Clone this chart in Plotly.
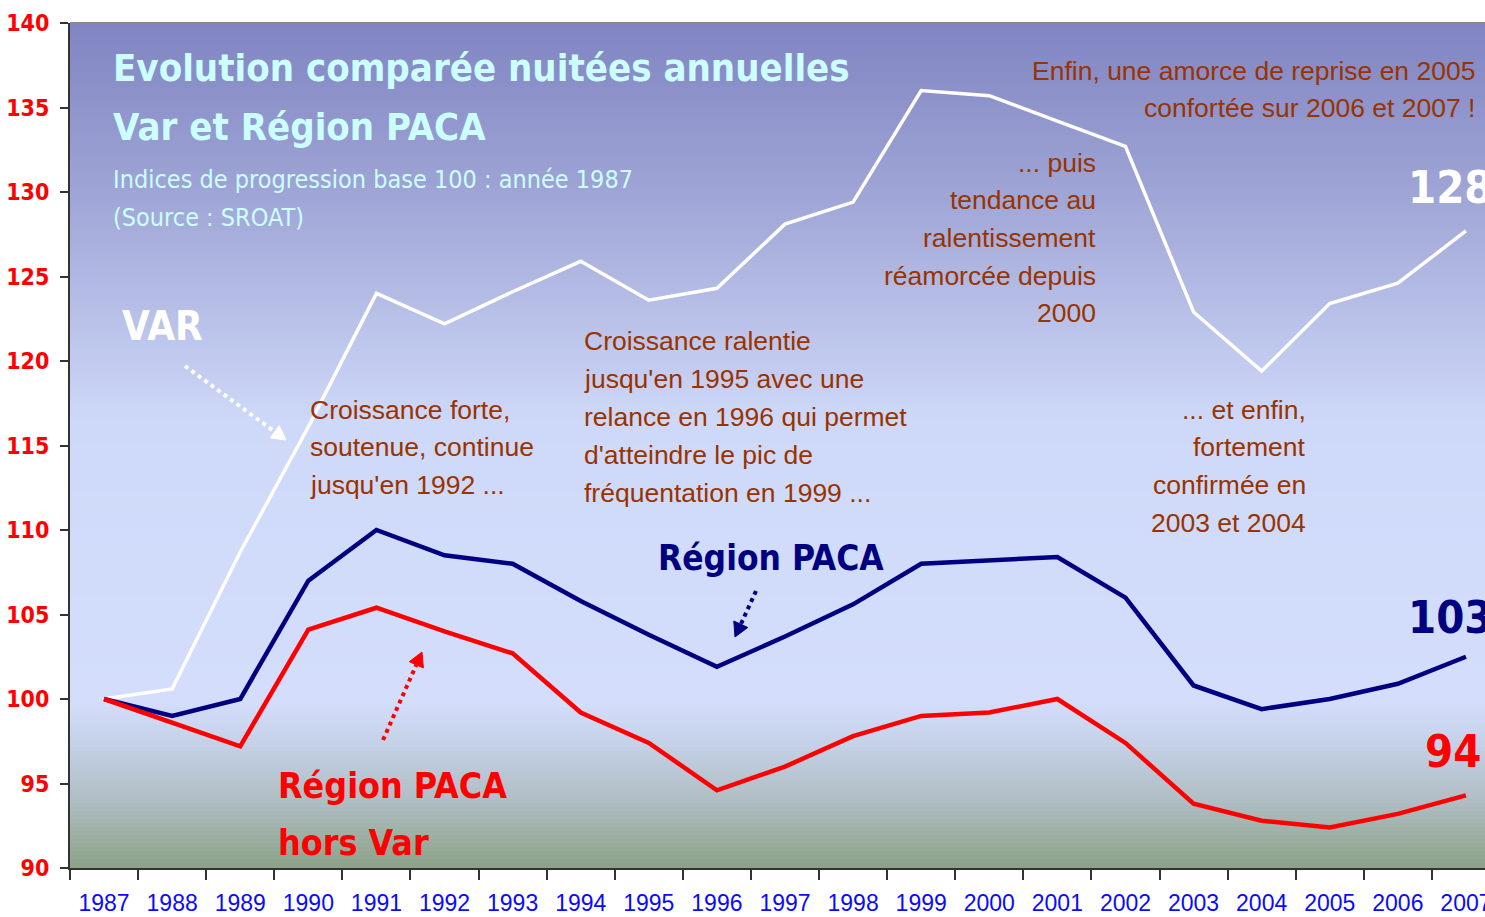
import plotly.graph_objects as go

# ---- data (index base 100 = 1987) ----
years = [str(y) for y in range(1987, 2008)]
var_index = [100, 100.6, 108.7, 116.1, 124.0, 122.2, 124.1, 125.9, 123.6, 124.3,
             128.1, 129.4, 136.0, 135.7, 134.2, 132.7, 122.9, 119.4, 123.4, 124.6, 127.7]
paca_index = [100, 99.0, 100.0, 107.0, 110.0, 108.5, 108.0, 105.8, 103.8, 101.9,
              103.7, 105.6, 108.0, 108.2, 108.4, 106.0, 100.8, 99.4, 100.0, 100.9, 102.5]
hors_var_index = [100, 98.6, 97.2, 104.1, 105.4, 104.0, 102.7, 99.2, 97.4, 94.6,
                  96.0, 97.8, 99.0, 99.2, 100.0, 97.4, 93.8, 92.8, 92.4, 93.2, 94.3]
y_ticks = [90, 95, 100, 105, 110, 115, 120, 125, 130, 135, 140]

# ---- page geometry (pixels) ----
W, H = 1485, 917
PL, PR, PT, PB = 70, 1485, 23, 868

COND = "DejaVu Sans Condensed, DejaVu Sans, sans-serif"
SANS = "Liberation Sans, Arial, sans-serif"
BROWN = "#993300"
NAVY = "#000080"
CYAN = "#CCFFFF"


def fx(px):
    return (px - PL) / (PR - PL)


def fy(py):
    return (PB - py) / (PB - PT)


def condensed(text):
    return '<span style="font-stretch:condensed">' + text + '</span>'


fig = go.Figure()

fig.add_trace(go.Scatter(x=years, y=var_index, mode='lines', name='Var',
                         line=dict(color='white', width=3.5)))
fig.add_trace(go.Scatter(x=years, y=paca_index, mode='lines', name='Région PACA',
                         line=dict(color=NAVY, width=4.5)))
fig.add_trace(go.Scatter(x=years, y=hors_var_index, mode='lines', name='Région PACA hors Var',
                         line=dict(color='#FF0000', width=4.5)))

# background gradient, built from horizontal bands
stops = [
    (23, (128, 132, 194)),
    (200, (160, 166, 214)),
    (420, (206, 216, 248)),
    (700, (212, 222, 252)),
    (735, (200, 212, 236)),
    (800, (176, 190, 196)),
    (868, (140, 162, 135)),
]


def grad_color(py):
    for (y0, c0), (y1, c1) in zip(stops[:-1], stops[1:]):
        if y0 <= py <= y1:
            t = (py - y0) / (y1 - y0)
            c = [round(a + (b - a) * t) for a, b in zip(c0, c1)]
            return 'rgb(%d,%d,%d)' % tuple(c)
    return 'rgb(%d,%d,%d)' % stops[-1][1]


shapes = []
step = 4
for py in range(PT, PB, step):
    shapes.append(dict(type='rect', xref='paper', yref='paper', layer='below',
                       x0=0, x1=1, y0=fy(min(py + step + 1, PB)), y1=fy(py),
                       line=dict(width=0), fillcolor=grad_color(py + step / 2)))

# top border of the plot area
shapes.append(dict(type='line', xref='paper', yref='paper', x0=0, x1=1, y0=1, y1=1,
                   line=dict(color='#8a8a8a', width=2)))


def dotted_arrow(x0, y0, x1, y1, color, head=14):
    # dotted shaft plus a filled triangle head (pixel coords)
    dx, dy = x1 - x0, y1 - y0
    n = (dx * dx + dy * dy) ** 0.5
    ux, uy = dx / n, dy / n
    bx, by = x1 - ux * head, y1 - uy * head
    shapes.append(dict(type='line', xref='paper', yref='paper',
                       x0=fx(x0), y0=fy(y0), x1=fx(bx), y1=fy(by),
                       line=dict(color=color, width=4, dash='dot')))
    w = head * 0.55
    p1 = (bx - uy * w, by + ux * w)
    p2 = (bx + uy * w, by - ux * w)
    path = 'M %f %f L %f %f L %f %f Z' % (fx(x1), fy(y1), fx(p1[0]), fy(p1[1]),
                                          fx(p2[0]), fy(p2[1]))
    shapes.append(dict(type='path', xref='paper', yref='paper', path=path,
                       fillcolor=color, line=dict(color=color, width=1)))


dotted_arrow(185, 366, 286, 440, 'white')
dotted_arrow(756, 591, 735, 637, NAVY)
dotted_arrow(383, 740, 422, 652, '#FF0000')

annotations = []


def label(text, px, py, size, color, family=SANS, anchor='left', bold=False, cond=False):
    font = dict(size=size, color=color, family=family)
    if bold:
        font['weight'] = 'bold'
    if cond:
        text = condensed(text)
    annotations.append(dict(text=text, xref='paper', yref='paper', x=fx(px), y=fy(py),
                            xanchor=anchor, yanchor='middle', showarrow=False, font=font))


# title block
label('Evolution comparée nuitées annuelles', 111, 68, 38, CYAN, COND, bold=True, cond=True)
label('Var et Région PACA', 111, 127, 38, CYAN, COND, bold=True, cond=True)
label('Indices de progression base 100 : année 1987', 111, 179, 25, CYAN, COND, cond=True)
label('(Source : SROAT)', 111, 217, 25, CYAN, COND, cond=True)

# series labels
label('VAR', 120, 326, 40, 'white', COND, bold=True, cond=True)
label('Région PACA', 656, 558, 35, NAVY, COND, bold=True, cond=True)
label('Région PACA', 276, 785, 35.5, '#FF0000', COND, bold=True, cond=True)
label('hors Var', 276, 842, 35.5, '#FF0000', COND, bold=True, cond=True)
label('128', 1406, 187, 45, 'white', COND, bold=True, cond=True)
label('103', 1406, 617, 45, NAVY, COND, bold=True, cond=True)
label('94', 1423, 751, 45, '#FF0000', COND, bold=True, cond=True)

# commentary
BS = 26.5
for i, t in enumerate(['Croissance forte,', 'soutenue, continue', "jusqu'en 1992 ..."]):
    label(t, 308, 410 + i * 37.5, BS, BROWN)
for i, t in enumerate(['Croissance ralentie', "jusqu'en 1995 avec une",
                       'relance en 1996 qui permet', "d'atteindre le pic de",
                       'fréquentation en 1999 ...']):
    label(t, 582, 341 + i * 38, BS, BROWN)
for i, t in enumerate(['... puis', 'tendance au', 'ralentissement',
                       'réamorcée depuis', '2000']):
    label(t, 1098, 163 + i * 37.5, BS, BROWN, anchor='right')
for i, t in enumerate(['Enfin, une amorce de reprise en 2005',
                       'confortée sur 2006 et 2007 !']):
    label(t, 1477, 71 + i * 37, BS, BROWN, anchor='right')
for i, t in enumerate(['... et enfin,', 'fortement', 'confirmée en', '2003 et 2004']):
    label(t, 1308, 410 + i * 37.5, BS, BROWN, anchor='right')

fig.update_layout(
    width=W, height=H,
    margin=dict(l=PL, r=W - PR, t=PT, b=H - PB, autoexpand=False),
    paper_bgcolor='white',
    plot_bgcolor='rgb(212,222,252)',
    showlegend=False,
    shapes=shapes,
    annotations=annotations,
    xaxis=dict(type='category', categoryorder='array', categoryarray=years,
               range=[-0.5, 20.28], tickson='boundaries', ticks='outside',
               ticklen=10, tickwidth=2, tickcolor='#333333', automargin=False,
               showline=True, linecolor='#333333', linewidth=2,
               showgrid=False, zeroline=False, ticklabelstandoff=13,
               tickfont=dict(family=SANS, size=23, color='#0a0aff')),
    yaxis=dict(range=[90, 140], tickvals=y_ticks,
               ticktext=[condensed(str(v)) for v in y_ticks],
               ticks='outside', ticklen=8,
               tickwidth=2, tickcolor='#333333', showline=True, automargin=False,
               linecolor='#333333', linewidth=2, showgrid=False, zeroline=False,
               ticklabelstandoff=6,
               tickfont=dict(family=COND, size=23, color='#FF0000', weight='bold')),
)

# the page body has a default 8px margin; drop it so the figure sits at 0,0
fig.write_html("out.html", config={'displayModeBar': False},
               post_script="document.body.style.margin='0';document.body.style.overflow='hidden';")
